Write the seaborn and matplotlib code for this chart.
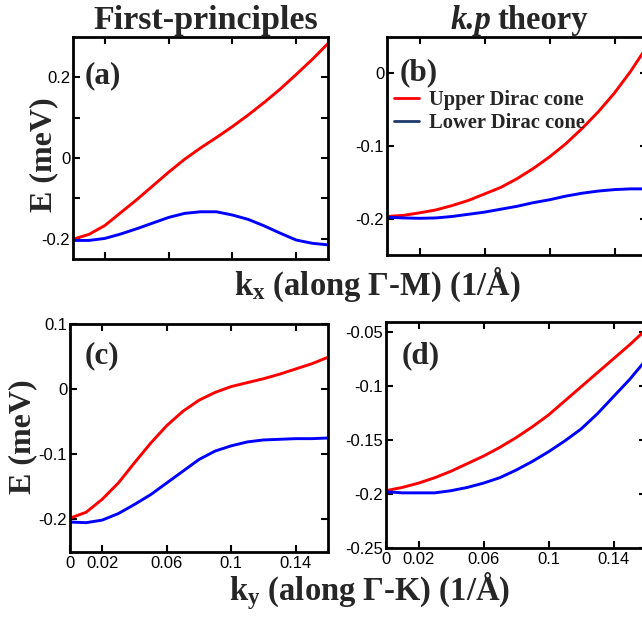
import numpy as np
import pandas as pd
import seaborn as sns
import matplotlib
matplotlib.use("Agg")
import matplotlib.pyplot as plt
from matplotlib.lines import Line2D

# ---- data (k in 1/A, E in meV) ----
k_grid = [0, 0.01, 0.02, 0.03, 0.04, 0.05, 0.06, 0.07, 0.08,
          0.09, 0.10, 0.11, 0.12, 0.13, 0.14, 0.15, 0.16]

# (a) first-principles, along Gamma-M
upper_a = [-0.201, -0.189, -0.167, -0.135, -0.103, -0.069, -0.035, -0.003, 0.025,
           0.051, 0.078, 0.107, 0.138, 0.171, 0.207, 0.244, 0.284]
lower_a = [-0.204, -0.204, -0.199, -0.188, -0.175, -0.161, -0.147, -0.137, -0.133,
           -0.133, -0.141, -0.152, -0.168, -0.186, -0.203, -0.211, -0.215]

# (b) k.p theory, along Gamma-M
upper_b = [-0.197, -0.1955, -0.192, -0.188, -0.182, -0.175, -0.166, -0.157, -0.145,
           -0.131, -0.115, -0.097, -0.076, -0.053, -0.027, 0.003, 0.037]
lower_b = [-0.198, -0.199, -0.1995, -0.199, -0.197, -0.194, -0.191, -0.187, -0.183,
           -0.178, -0.174, -0.169, -0.165, -0.162, -0.160, -0.159, -0.159]

# (c) first-principles, along Gamma-K
upper_c = [-0.198, -0.189, -0.169, -0.144, -0.113, -0.083, -0.056, -0.034, -0.017,
           -0.005, 0.004, 0.010, 0.016, 0.023, 0.031, 0.039, 0.049]
lower_c = [-0.204, -0.205, -0.201, -0.191, -0.177, -0.162, -0.144, -0.126, -0.108,
           -0.095, -0.087, -0.081, -0.078, -0.077, -0.076, -0.076, -0.075]

# (d) k.p theory, along Gamma-K
upper_d = [-0.197, -0.194, -0.190, -0.185, -0.179, -0.172, -0.165, -0.157, -0.148,
           -0.138, -0.127, -0.114, -0.101, -0.088, -0.075, -0.062, -0.048]
lower_d = [-0.198, -0.199, -0.199, -0.199, -0.197, -0.194, -0.190, -0.185, -0.178,
           -0.170, -0.161, -0.151, -0.140, -0.126, -0.110, -0.094, -0.076]

band_names = ["Upper Dirac cone", "Lower Dirac cone"]
band_colors = {"Upper Dirac cone": "#ff0000", "Lower Dirac cone": "#0000ff"}
legend_lower_color = "#1f3a68"

x_ticks_top = [0.02, 0.06, 0.1, 0.14]
x_ticks_bot = [0, 0.02, 0.06, 0.1, 0.14]
x_ticklabels_bot = ["0", "0.02", "0.06", "0.1", "0.14"]

panels = {
    "a": dict(upper=upper_a, lower=lower_a, ylim=(-0.25, 0.3), tag=(0.047, 0.825),
              yticks=[-0.2, -0.1, 0, 0.1, 0.2], ylabels=["-0.2", "", "0", "", "0.2"]),
    "b": dict(upper=upper_b, lower=lower_b, ylim=(-0.25, 0.05), tag=(0.05, 0.837),
              yticks=[-0.2, -0.1, 0], ylabels=["-0.2", "-0.1", "0"]),
    "c": dict(upper=upper_c, lower=lower_c, ylim=(-0.25, 0.1), tag=(0.058, 0.86),
              yticks=[-0.2, -0.1, 0, 0.1], ylabels=["-0.2", "-0.1", "0", "0.1"]),
    "d": dict(upper=upper_d, lower=lower_d, ylim=(-0.25, -0.041), tag=(0.06, 0.85),
              yticks=[-0.25, -0.2, -0.15, -0.1, -0.05],
              ylabels=["-0.25", "-0.2", "-0.15", "-0.1", "-0.05"]),
}

# axes boxes in pixels: left, top, right, bottom
W, H = 642, 626
boxes = {"a": (73, 37, 328, 259), "b": (387, 37, 647, 255),
         "c": (70, 324, 328, 552), "d": (386, 322, 646, 548)}

sns.set_style("ticks")
plt.rcParams["font.family"] = ["Liberation Sans", "DejaVu Sans"]
plt.rcParams["mathtext.fontset"] = "custom"
plt.rcParams["mathtext.bf"] = "Liberation Serif:bold"
plt.rcParams["mathtext.rm"] = "Liberation Serif:bold"
plt.rcParams["axes.unicode_minus"] = False

serif = ["Liberation Serif", "DejaVu Serif"]

fig = plt.figure(figsize=(W / 100, H / 100), dpi=100)

for key, p in panels.items():
    l, t, r, b = boxes[key]
    ax = fig.add_axes([l / W, 1 - b / H, (r - l) / W, (b - t) / H])
    df = pd.DataFrame({
        "k": k_grid * 2,
        "E": p["upper"] + p["lower"],
        "band": [band_names[0]] * len(k_grid) + [band_names[1]] * len(k_grid),
    })
    sns.lineplot(data=df, x="k", y="E", hue="band", palette=band_colors,
                 linewidth=2.1, legend=False, ax=ax)
    ax.set_xlim(0, 0.16)
    ax.set_ylim(*p["ylim"])
    ax.set_xlabel("")
    ax.set_ylabel("")
    ax.set_yticks(p["yticks"])
    ax.set_yticklabels(p["ylabels"])
    if key in ("a", "b"):
        ax.set_xticks(x_ticks_top)
        ax.set_xticklabels([])
    else:
        ax.set_xticks(x_ticks_bot)
        ax.set_xticklabels(x_ticklabels_bot)
    ax.tick_params(direction="in", length=5, width=1.5, top=True, right=True,
                   labelsize=12, pad=3, colors="black")
    ax.tick_params(axis="y", pad=2)
    for s in ax.spines.values():
        s.set_linewidth(2.0)
        s.set_color("black")
    ax.text(p["tag"][0], p["tag"][1], "(%s)" % key, transform=ax.transAxes,
            fontsize=22.5, fontweight="bold", family=serif, va="center", ha="left")

    if key == "b":
        handles = [Line2D([], [], color=band_colors[band_names[0]], lw=2),
                   Line2D([], [], color=legend_lower_color, lw=2)]
        ax.legend(handles, band_names, loc="upper left", bbox_to_anchor=(0.027, 0.755),
                  frameon=False, borderpad=0, borderaxespad=0, handlelength=1.2,
                  handletextpad=0.5, labelspacing=0.15,
                  prop=dict(family=serif, weight="bold", size=14.8))

# titles
fig.text(206 / W, 1 - 29 / H, "First-principles", fontsize=24.5, fontweight="bold",
         family=serif, ha="center", va="baseline")
fig.text(491 / W, 1 - 29 / H, "k.p", fontsize=23.5, fontweight="bold", style="italic",
         family=serif, ha="right", va="baseline")
fig.text(498 / W, 1 - 29 / H, "theory", fontsize=23.5, fontweight="bold",
         family=serif, ha="left", va="baseline")

# axis labels
fig.text(377 / W, 1 - 295 / H, r"$\mathbf{k_x}$ (along Γ-M) (1/Å)", fontsize=23.5,
         fontweight="bold", family=serif, ha="center", va="baseline")
fig.text(370 / W, 1 - 600 / H, r"$\mathbf{k_y}$ (along Γ-K) (1/Å)", fontsize=23.5,
         fontweight="bold", family=serif, ha="center", va="baseline")
fig.text(44 / W, 1 - 155 / H, "E (meV)", fontsize=23, fontweight="bold",
         family=serif, rotation=90, ha="center", va="center")
fig.text(23 / W, 1 - 437 / H, "E (meV)", fontsize=23, fontweight="bold",
         family=serif, rotation=90, ha="center", va="center")

fig.savefig("out.png", dpi=100)
